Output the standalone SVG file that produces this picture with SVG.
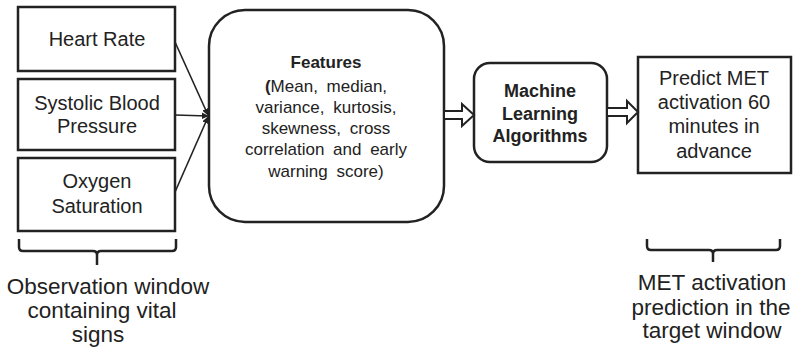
<svg xmlns="http://www.w3.org/2000/svg" width="797" height="348" viewBox="0 0 797 348">
<defs>
<marker id="ah" viewBox="0 0 10 10" refX="9" refY="5" markerWidth="7" markerHeight="7" markerUnits="userSpaceOnUse" orient="auto">
<path d="M0,0 L10,5 L0,10 z" fill="#222"/>
</marker>
<style>
.box{fill:#fff;stroke:#222;stroke-width:2.5}
.t{font-family:"Liberation Sans",Arial,sans-serif;fill:#222;text-anchor:middle}
.s20{font-size:20px}
.f17{font-size:17px;word-spacing:4px}
.s18{font-size:18px}
.b{font-weight:bold}
.s22{font-size:22.5px}
.ln{stroke:#222;stroke-width:1.6;fill:none}
.blk{fill:#fff;stroke:#222;stroke-width:2}
.br{stroke:#222;stroke-width:2.5;fill:none}
</style>
</defs>
<rect width="797" height="348" fill="#fff"/>
<g id="heart-rate">
<rect class="box" x="18" y="7" width="157" height="64"/>
<text class="t s20" x="97" y="46">Heart Rate</text>
</g>
<g id="systolic">
<rect class="box" x="18" y="79" width="157" height="71"/>
<text class="t s20" x="97" y="110">Systolic Blood</text>
<text class="t s20" x="97" y="133">Pressure</text>
</g>
<g id="oxygen">
<rect class="box" x="18" y="158" width="157" height="73"/>
<text class="t s20" x="97" y="188">Oxygen</text>
<text class="t s20" x="97" y="213">Saturation</text>
</g>
<g id="features">
<rect class="box" x="209" y="10" width="235" height="212" rx="36" ry="36"/>
<text class="t f17 b" x="326" y="68">Features</text>
<text class="t f17" x="326" y="92"><tspan font-weight="bold">(</tspan>Mean, median,</text>
<text class="t f17" x="326" y="113">variance, kurtosis,</text>
<text class="t f17" x="326" y="134">skewness, cross</text>
<text class="t f17" x="326" y="155">correlation and early</text>
<text class="t f17" x="326" y="177">warning score)</text>
</g>
<g id="ml">
<rect class="box" x="474" y="63" width="133" height="99" rx="16" ry="16"/>
<text class="t s18 b" x="540" y="97">Machine</text>
<text class="t s18 b" x="540" y="120">Learning</text>
<text class="t s18 b" x="540" y="142">Algorithms</text>
</g>
<g id="predict">
<rect class="box" x="638" y="57" width="153" height="116"/>
<text class="t s20" x="714" y="85">Predict MET</text>
<text class="t s20" x="714" y="109">activation 60</text>
<text class="t s20" x="714" y="133">minutes in</text>
<text class="t s20" x="714" y="158">advance</text>
</g>
<g id="connectors">
<line class="ln" x1="175" y1="42" x2="208" y2="115" marker-end="url(#ah)"/>
<line class="ln" x1="175" y1="115" x2="208" y2="116" marker-end="url(#ah)"/>
<line class="ln" x1="175" y1="192" x2="208" y2="117" marker-end="url(#ah)"/>
<polygon class="blk" points="444,111 462,111 462,104 474,115 462,126 462,119 444,119"/>
<polygon class="blk" points="607,108 627,108 627,101 638,112 627,123 627,116 607,116"/>
</g>
<g id="observation-window">
<path class="br" d="M19,239 L19,247 Q19,251 23,251 L93,251 Q97,251 97,255 L97,265 M97,255 Q97,251 101,251 L172,251 Q176,251 176,247 L176,239"/>
<text class="t s22" x="108" y="294">Observation window</text>
<text class="t s22" x="102" y="318">containing vital</text>
<text class="t s22" x="98" y="342">signs</text>
</g>
<g id="target-window">
<path class="br" d="M647,239 L647,246 Q647,250 651,250 L709,250 Q713,250 713,254 L713,262 M713,254 Q713,250 717,250 L776,250 Q780,250 780,246 L780,239"/>
<text class="t s22" x="712" y="290">MET activation</text>
<text class="t s22" x="711" y="315">prediction in the</text>
<text class="t s22" x="712" y="338">target window</text>
</g>
</svg>
